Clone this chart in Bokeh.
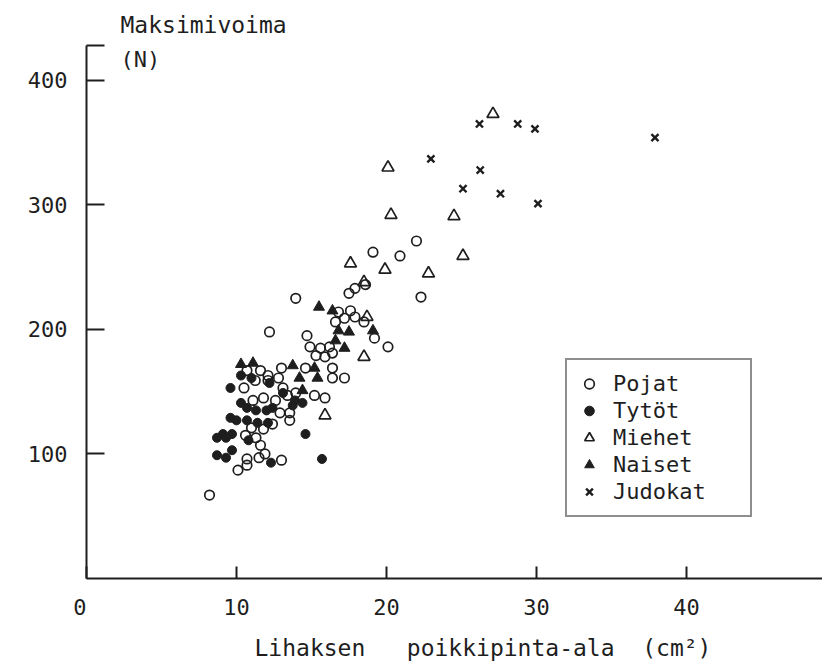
from bokeh.plotting import figure
from bokeh.models import Range1d, FixedTicker, Label, Legend, LegendItem, Title
from bokeh.embed import file_html
from bokeh.resources import INLINE

# ---- data ----
pojat_x = [17.5, 17.9, 18.6, 13.95, 16.8, 17.6, 17.2, 17.9, 18.5, 16.6, 19.2, 12.2, 14.7, 14.9, 15.6,
           16.2, 15.3, 15.9, 16.4, 20.1, 10.7, 11.6, 12.1, 13.0, 14.6, 16.4, 16.4, 17.2, 10.5, 11.25,
           12.1, 12.8, 13.1, 13.4, 13.95, 15.2, 15.9, 11.1, 11.8, 12.6, 12.9, 13.55, 11.0, 11.8, 12.4,
           13.55, 10.6, 11.3, 11.6, 11.9, 11.5, 10.7, 10.1, 10.7, 13.0, 8.2, 22.0, 19.1, 20.9, 22.3]
pojat_y = [229, 233, 236, 225, 214, 215, 209, 210, 206, 206, 193, 198, 195, 186, 185,
           186, 179, 178, 181, 186, 167, 167, 163, 169, 169, 169, 161, 161, 153, 159,
           159, 161, 153, 147, 149, 147, 145, 143, 145, 143, 133, 133, 121, 120, 124,
           127, 115, 113, 107, 100, 97, 96, 87, 91, 95, 67, 271, 262, 259, 226]

tytot_x = [9.6, 10.3, 11.0, 12.2, 13.9, 13.75, 14.4, 10.3, 10.7, 11.3, 12.0, 12.4, 9.6, 10.0, 10.7,
           11.4, 12.1, 9.1, 9.7, 14.6, 8.7, 9.3, 10.8, 8.7, 9.3, 9.7, 12.3, 15.7, 13.1]
tytot_y = [153, 163, 161, 157, 143, 139, 141, 141, 137, 135, 135, 137, 129, 127, 127,
           125, 125, 116, 116, 116, 113, 113, 111, 99, 97, 103, 93, 96, 149]

miehet_x = [27.1, 20.1, 20.3, 24.5, 25.1, 17.6, 19.9, 22.8, 18.5, 18.5, 15.9, 18.7]
miehet_y = [373, 330, 292, 291, 259, 253, 248, 245, 238, 178, 131, 210]

naiset_x = [15.5, 16.4, 16.8, 17.5, 16.6, 17.2, 19.1, 11.1, 13.75, 15.2, 15.4, 14.2, 14.4, 10.3]
naiset_y = [218, 215, 199, 198, 191, 185, 199, 173, 171, 169, 161, 161, 151, 172]

judokat_x = [26.2, 28.75, 29.9, 22.96, 26.25, 25.1, 27.6, 30.1, 37.9]
judokat_y = [365, 365, 361, 337, 328, 313, 309, 301, 354]

x_ticks = [0, 10, 20, 30, 40]
y_ticks = [100, 200, 300, 400]
X_MIN, X_MAX = 0, 49.07
Y_MIN, Y_MAX = 0, 428

INK = "#1e1e1e"
FONT = "DejaVu Sans Mono"
NB = "\u00a0"

p = figure(width=822, height=670, output_backend="svg", toolbar_location=None,
           x_range=Range1d(X_MIN, X_MAX), y_range=Range1d(Y_MIN, Y_MAX),
           min_border_left=86, min_border_right=0, min_border_top=45, min_border_bottom=92)
p.outline_line_color = None
p.xgrid.visible = False
p.ygrid.visible = False
p.background_fill_color = "white"
p.border_fill_color = "white"

p.title.text = "Maksimivoima"
p.title.align = "left"
p.title.offset = 34
p.title.standoff = 16
p.title.text_font = FONT
p.title.text_font_size = "23px"
p.title.text_font_style = "normal"
p.title.text_color = INK

for ax in (p.xaxis[0], p.yaxis[0]):
    ax.axis_line_color = INK
    ax.axis_line_width = 2
    ax.major_tick_line_color = INK
    ax.major_tick_line_width = 2
    ax.minor_tick_line_color = None
    ax.major_tick_out = 0
    ax.major_label_text_font = FONT
    ax.major_label_text_font_size = "22px"
    ax.major_label_text_color = INK

p.xaxis.ticker = FixedTicker(ticks=x_ticks)
p.xaxis.major_label_overrides = {0: "0" + NB}
p.yaxis.ticker = FixedTicker(ticks=y_ticks + [Y_MAX])
p.yaxis.major_label_overrides = {Y_MAX: ""}
p.xaxis.major_tick_in = 12
p.yaxis.major_tick_in = 18
p.xaxis.major_label_standoff = 16
p.yaxis.major_label_standoff = 19

p.add_layout(Title(text="Lihaksen" + NB * 3 + "poikkipinta-ala" + NB * 2 + "(cm²)",
                   align="left", offset=168, standoff=20, text_font=FONT,
                   text_font_size="23px", text_font_style="normal", text_color=INK), "below")

r1 = p.scatter(pojat_x, pojat_y, marker="circle", size=9.5, line_color=INK, line_width=1.7,
               fill_color=None)
r2 = p.scatter(tytot_x, tytot_y, marker="circle", size=9, line_color=INK, fill_color=INK)
r3 = p.scatter(miehet_x, miehet_y, marker="triangle", size=12, line_color=INK, line_width=1.7,
               fill_color=None)
r4 = p.scatter(naiset_x, naiset_y, marker="triangle", size=11, line_color=INK, fill_color=INK)
r5 = p.scatter(judokat_x, judokat_y, marker="x", size=10, line_color=INK, line_width=2.4)

legend = Legend(items=[
    LegendItem(label="Pojat", renderers=[r1]),
    LegendItem(label="Tytöt", renderers=[r2]),
    LegendItem(label="Miehet", renderers=[r3]),
    LegendItem(label="Naiset", renderers=[r4]),
    LegendItem(label="Judokat", renderers=[r5]),
], location=(479, 61))
legend.border_line_color = INK
legend.border_line_width = 2
legend.background_fill_alpha = 1
legend.padding = 10
legend.spacing = 0
legend.margin = 0
legend.glyph_width = 24
legend.glyph_height = 27
legend.label_height = 27
legend.label_width = 127
legend.label_standoff = 12
legend.label_text_font = FONT
legend.label_text_font_size = "22px"
legend.label_text_color = INK
p.add_layout(legend)

p.add_layout(Label(x=120, y=59, x_units="canvas", y_units="canvas", text="(N)",
                   text_font=FONT, text_font_size="22px", text_color=INK,
                   text_baseline="alphabetic"))

open("out.html", "w").write(file_html(p, INLINE))
